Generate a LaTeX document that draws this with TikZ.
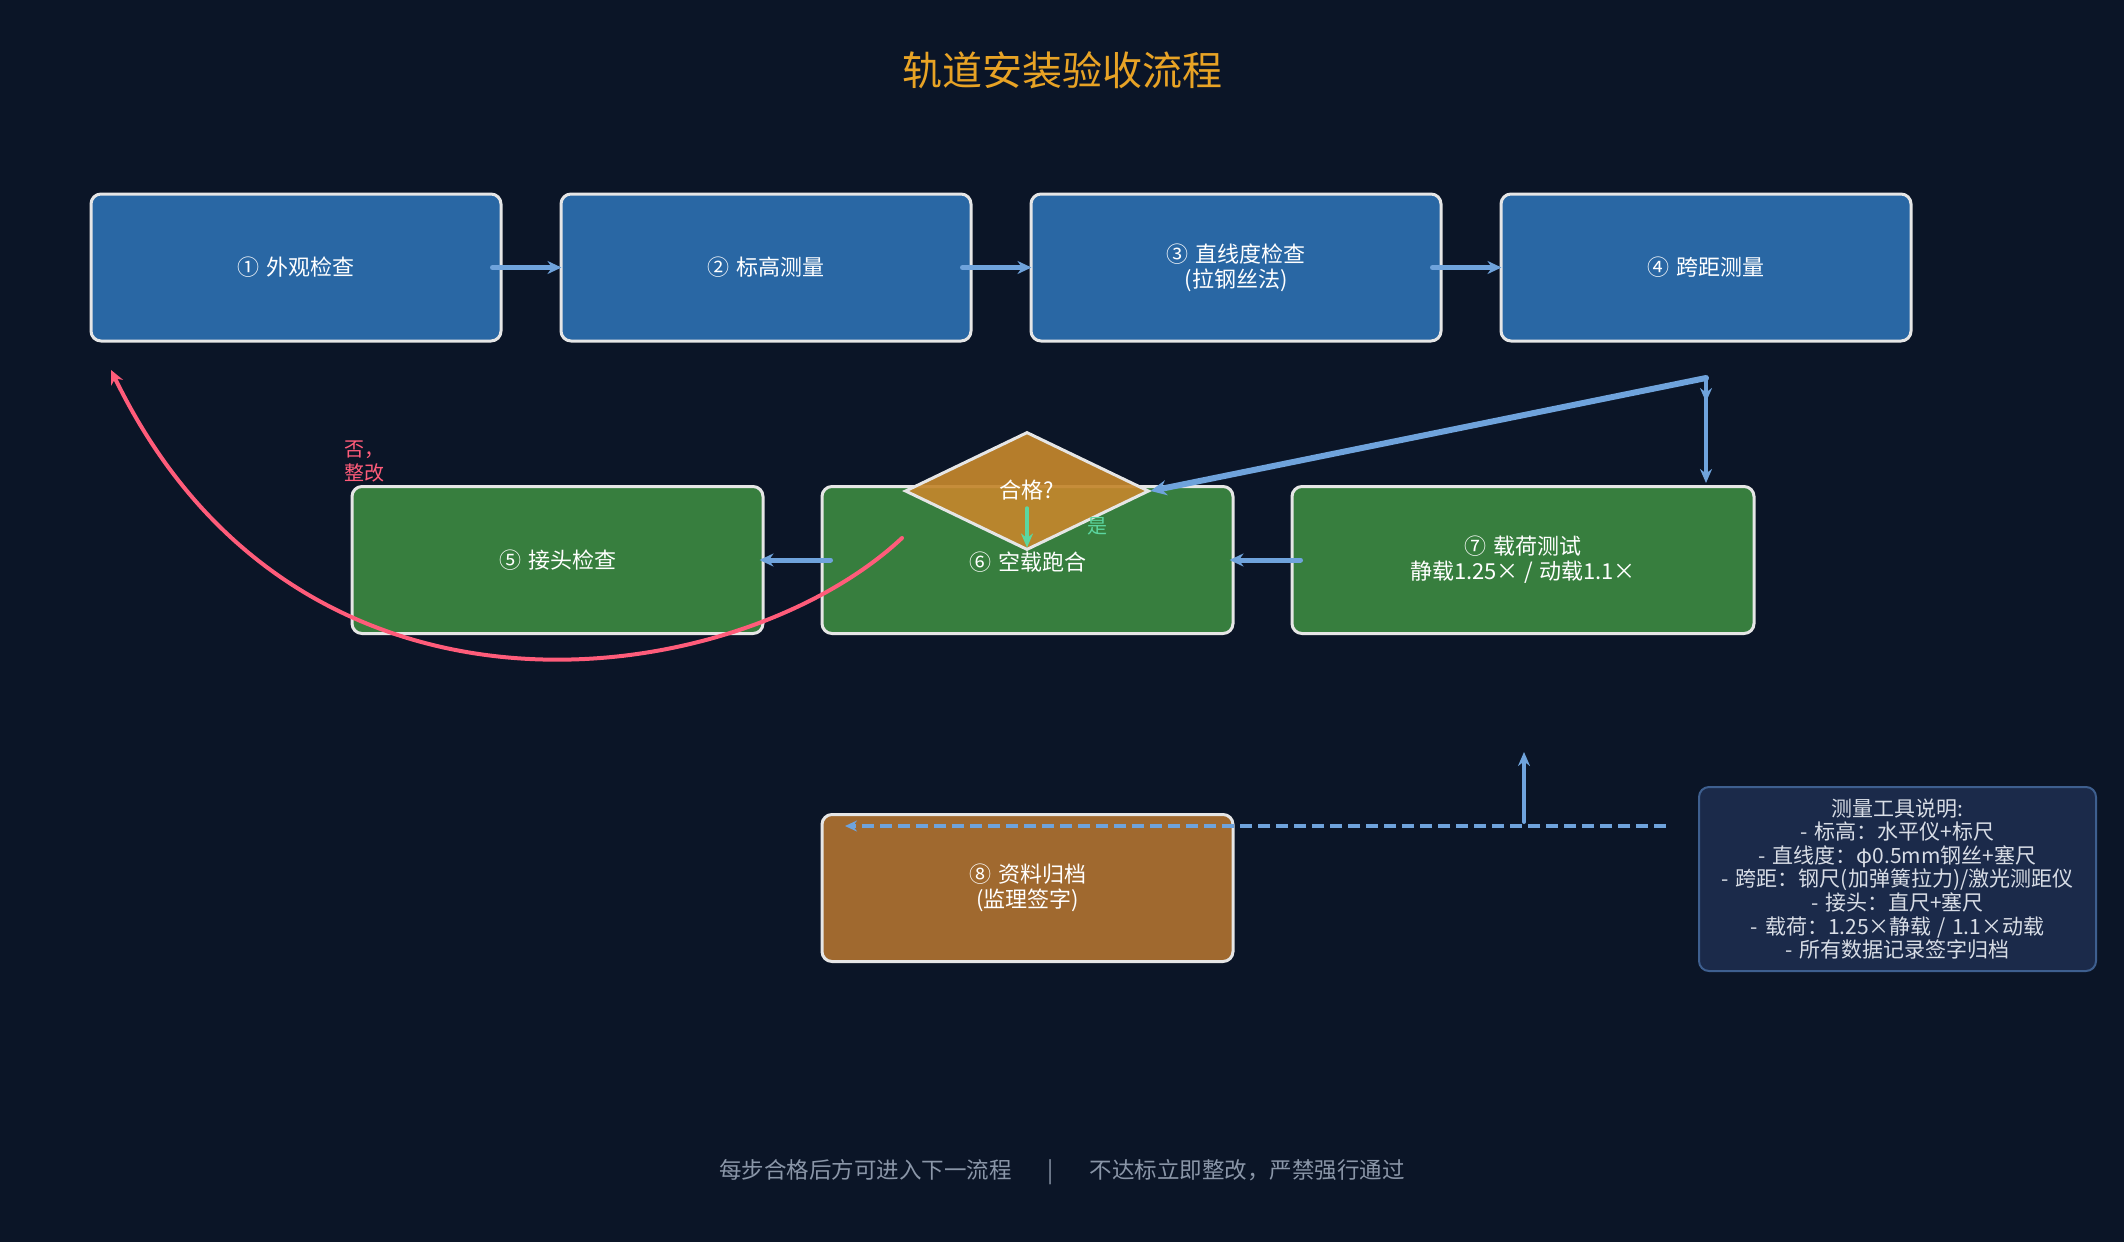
\documentclass[tikz,border=0pt]{standalone}
\usepackage{fontspec}
\newfontfamily\cjk{Noto Sans CJK SC}
\usetikzlibrary{arrows.meta,shapes.geometric}
\definecolor{bgc}{HTML}{0B1527}
\definecolor{bluebox}{HTML}{2967A4}
\definecolor{greenbox}{HTML}{377E3E}
\definecolor{brownbox}{HTML}{A0692F}
\definecolor{diafill}{HTML}{C4862C}
\definecolor{edgec}{HTML}{E6E6E6}
\definecolor{flowc}{HTML}{6FA3DC}
\definecolor{redc}{HTML}{FF5C7A}
\definecolor{yesc}{HTML}{5CD6A0}
\definecolor{titlec}{HTML}{E8A325}
\definecolor{legfill}{HTML}{1B2A4A}
\definecolor{legedge}{HTML}{3E5F8F}
\definecolor{legtext}{HTML}{D8DDE6}
\definecolor{footc}{HTML}{8A96A8}
\tikzset{
  stepbox/.style={draw=edgec, line width=3pt, rounded corners=10pt, text=white,
    minimum width=410pt, minimum height=147pt, align=center, inner sep=0pt,
    font=\cjk\fontsize{22}{25}\selectfont},
  flow/.style={draw=flowc, line width=5pt, line cap=round,
    -{Stealth[length=14pt,width=13pt]}},
  thinflow/.style={draw=flowc, line width=4pt, line cap=round,
    -{Stealth[length=14pt,width=12pt]}}
}
\newcommand{\gapsp}{\hspace{7pt}}
\begin{document}
\begin{tikzpicture}[x=1pt,y=-1pt]
% canvas
\fill[bgc] (0,0) rectangle (2124,1242);
\useasboundingbox (0,0) rectangle (2124,1242);

% title
\node[text=titlec, font=\cjk\fontsize{40}{42}\selectfont] (title) at (1062,70) {轨道安装验收流程};

% first row
\node[stepbox, fill=bluebox] (s1) at (296,267.5) {①\gapsp 外观检查};
\node[stepbox, fill=bluebox] (s2) at (766,267.5) {②\gapsp 标高测量};
\node[stepbox, fill=bluebox] (s3) at (1236,267.5) {③\gapsp 直线度检查\\(拉钢丝法)};
\node[stepbox, fill=bluebox] (s4) at (1706,267.5) {④\gapsp 跨距测量};

% second row
\node[stepbox, fill=greenbox, minimum width=411pt] (s5) at (557.5,560) {⑤\gapsp 接头检查};
\node[stepbox, fill=greenbox, minimum width=411pt] (s6) at (1027.5,560) {\\[-2pt]⑥\gapsp 空载跑合};
\node[stepbox, fill=greenbox, minimum width=462pt] (s7) at (1523,560) {⑦\gapsp 载荷测试\\静载1.25×\hspace{6pt}/\hspace{6pt}动载1.1×};

% archive
\node[stepbox, fill=brownbox, minimum width=411pt] (s8) at (1027.5,888) {⑧\gapsp 资料归档\\(监理签字)};

% decision
\node[diamond, draw=edgec, line width=3pt, fill=diafill, fill opacity=0.92, text opacity=1,
  text=white, minimum width=244pt, minimum height=118pt, inner sep=0pt,
  font=\cjk\fontsize{22}{25}\selectfont] (dec) at (1027,491) {};
\node[text=white, font=\cjk\fontsize{22}{25}\selectfont] (declbl) at (1027,490) {合格?};

% legend
\node[draw=legedge, line width=2pt, fill=legfill, rounded corners=10pt,
  minimum width=397pt, minimum height=184pt, inner sep=0pt, align=center,
  text=legtext, font=\cjk\fontsize{21}{23.6}\selectfont] (legend) at (1897.5,879)
  {测量工具说明:\\-\gapsp 标高：水平仪+标尺\\-\gapsp 直线度：φ0.5mm钢丝+塞尺\\-\gapsp 跨距：钢尺(加弹簧拉力)/激光测距仪\\-\gapsp 接头：直尺+塞尺\\-\gapsp 载荷：1.25×静载\hspace{6pt}/\hspace{6pt}1.1×动载\\-\gapsp 所有数据记录签字归档};

% footer
\node[text=footc, font=\cjk\fontsize{22.5}{25}\selectfont] (footer) at (1062,1172)
  {每步合格后方可进入下一流程\hspace{36pt}|\hspace{36pt}不达标立即整改，严禁强行通过};

% first-row connectors
\draw[flow] ([xshift=-10pt]s1.east) -- ([xshift=2pt]s2.west);
\draw[flow] ([xshift=-10pt]s2.east) -- ([xshift=2pt]s3.west);
\draw[flow] ([xshift=-10pt]s3.east) -- ([xshift=2pt]s4.west);

% from step 4 to the check and to step 7
\coordinate (split) at (1706,378);
\draw[draw=flowc, line width=6pt, line cap=round,
  -{Stealth[length=16pt,width=15pt]}] (split) -- (dec.east);
\draw[thinflow] (split) -- ([yshift=2pt]split |- s7.north);
\draw[thinflow] (split) -- (1706,402);

% second-row connectors
\draw[flow] ([xshift=10pt]s7.west) -- ([xshift=-5pt]s6.east);
\draw[flow] ([xshift=10pt]s6.west) -- ([xshift=-5pt]s5.east);

% pass branch
\draw[draw=yesc, line width=3.5pt, line cap=round,
  -{Stealth[length=14pt,width=12pt]}] (1027,508) -- ([yshift=4pt]dec.south);
\node[text=yesc, font=\cjk\fontsize{20}{22}\selectfont] (yes) at (1097,526) {是};

% rework branch
\coordinate (rwstart) at (902,538);
\coordinate (rwend) at (111,370);
\draw[draw=redc, line width=4pt, line cap=round,
  -{Stealth[length=14pt,width=13pt]}]
  (rwstart) .. controls (740,690) and (300,760) .. (rwend);
\node[text=redc, font=\cjk\fontsize{20}{23.5}\selectfont, align=left, anchor=north west,
  inner sep=0pt] (no) at (344,441) {否，\\整改};

% record flow
\coordinate (recstart) at (1666,826);
\coordinate (recup) at (1524,752);
\draw[draw=flowc, line width=4pt, dash pattern=on 12pt off 6pt,
  -{Stealth[length=12pt,width=11pt]}] (recstart) -- (845,826);
\draw[thinflow] (1524,822) -- (recup);
\end{tikzpicture}
\end{document}
